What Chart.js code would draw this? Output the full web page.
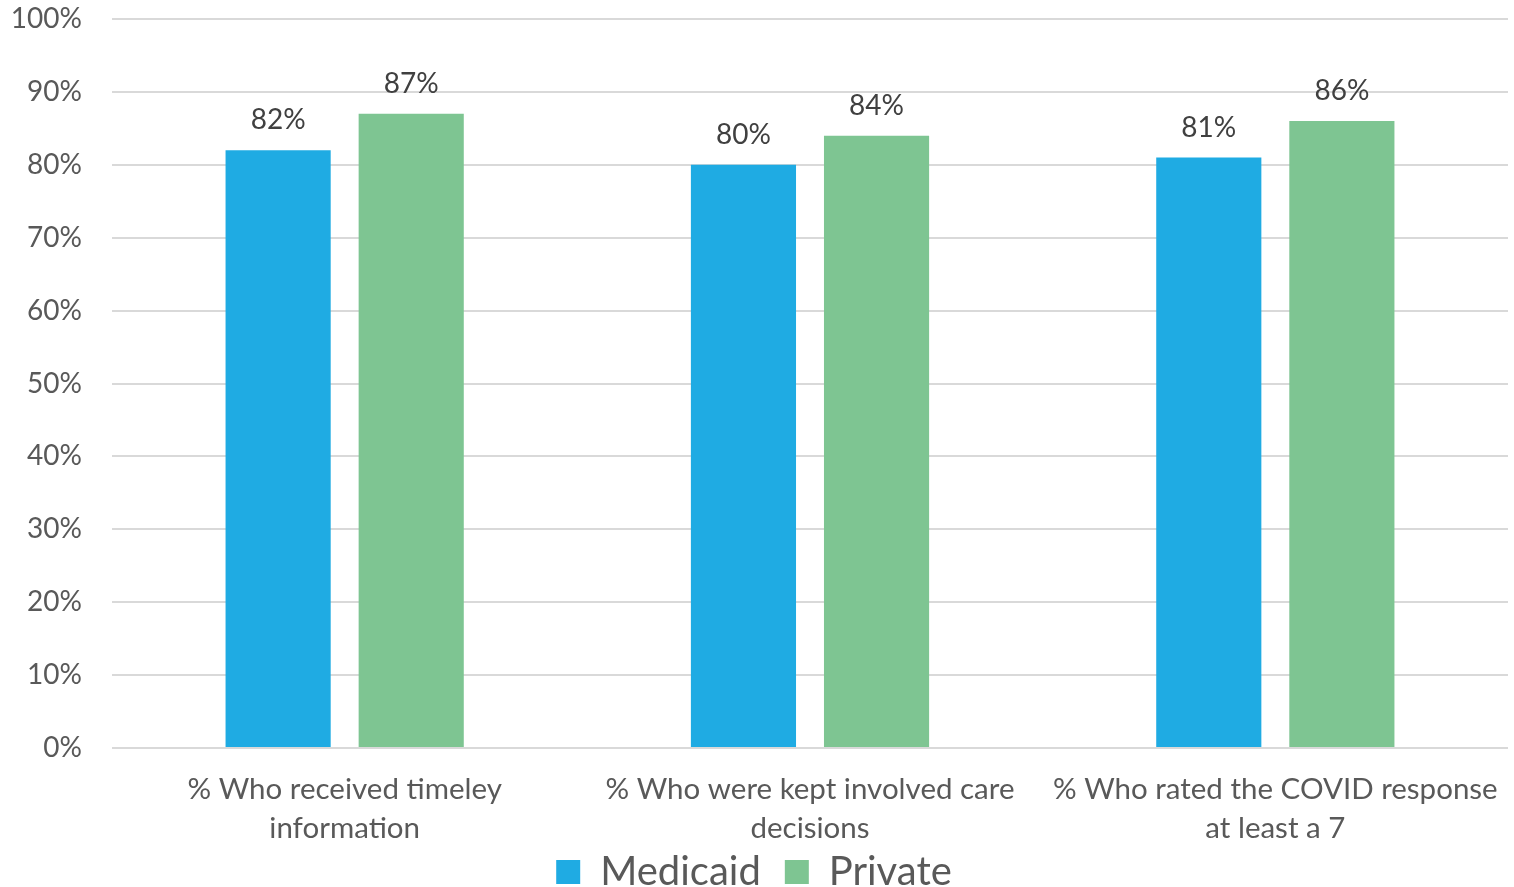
<html>
<head>
<meta charset="utf-8" />
<title>Medicaid vs Private</title>
<script src="https://cdn.jsdelivr.net/npm/chart.js@4"></script>
<style>
  html, body { margin: 0; padding: 0; background: #fff; }
  #wrap { width: 1514px; height: 887px; }
</style>
<script>
  const categories = [
    ['% Who received timeley', 'information'],
    ['% Who were kept involved care', 'decisions'],
    ['% Who rated the COVID response', 'at least a 7']
  ];
  const seriesNames = ['Medicaid', 'Private'];
  const medicaid = [82, 80, 81];
  const privat = [87, 84, 86];
  const yTicks = [0, 10, 20, 30, 40, 50, 60, 70, 80, 90, 100];
</script>
</head>
<body>
<div id="wrap"><canvas id="chart" width="1514" height="887"></canvas></div>
<script>
  const fontName = 'Lato, "Open Sans", sans-serif';

  // value labels above each bar
  const barLabels = {
    id: 'barLabels',
    afterDatasetsDraw(chart) {
      const ctx = chart.ctx;
      ctx.save();
      ctx.font = '28px ' + fontName;
      ctx.fillStyle = '#404040';
      ctx.textAlign = 'center';
      ctx.textBaseline = 'middle';
      chart.data.datasets.forEach((ds, i) => {
        chart.getDatasetMeta(i).data.forEach((bar, j) => {
          ctx.fillText(ds.data[j] + '%', bar.x, bar.y - 30);
        });
      });
      ctx.restore();
    }
  };

  new Chart(document.getElementById('chart'), {
    type: 'bar',
    data: {
      labels: categories,
      datasets: [
        { label: seriesNames[0], data: medicaid, backgroundColor: '#1FABE3' },
        { label: seriesNames[1], data: privat, backgroundColor: '#7EC592' }
      ]
    },
    options: {
      responsive: false,
      animation: false,
      devicePixelRatio: 1,
      layout: { padding: { top: 19, right: 6, left: 0, bottom: -15 } },
      datasets: { bar: { categoryPercentage: 0.572, barPercentage: 0.79 } },
      plugins: {
        tooltip: { enabled: false },
        legend: {
          position: 'bottom',
          labels: {
            font: { size: 40, family: fontName },
            color: '#595959',
            boxWidth: 24,
            boxHeight: 24,
            padding: 4,
            generateLabels(chart) {
              const items = Chart.defaults.plugins.legend.labels.generateLabels(chart);
              items.forEach((it, i) => { if (i < items.length - 1) it.text = it.text + '\u2002'; });
              return items;
            }
          }
        }
      },
      scales: {
        x: {
          grid: { display: false, drawTicks: false },
          border: { display: false },
          ticks: {
            font: { size: 29.5, family: fontName, lineHeight: 1.32 },
            color: '#595959',
            maxRotation: 0,
            autoSkip: false,
            padding: 22
          },
          afterFit(axis) {
            axis.height = 100;
            axis.paddingLeft = 0;
            axis.paddingRight = 0;
          }
        },
        y: {
          min: 0,
          max: 100,
          afterBuildTicks(axis) { axis.ticks = yTicks.map(v => ({ value: v })); },
          grid: { color: '#D9D9D9', lineWidth: 2, drawTicks: false },
          border: { display: false },
          ticks: {
            font: { size: 28, family: fontName },
            color: '#595959',
            padding: 30,
            callback: v => v + '%'
          },
          afterFit(axis) {
            axis.width = 112;
            axis.paddingTop = 0;
            axis.paddingBottom = 0;
          }
        }
      }
    },
    plugins: [barLabels]
  });
</script>
</body>
</html>
